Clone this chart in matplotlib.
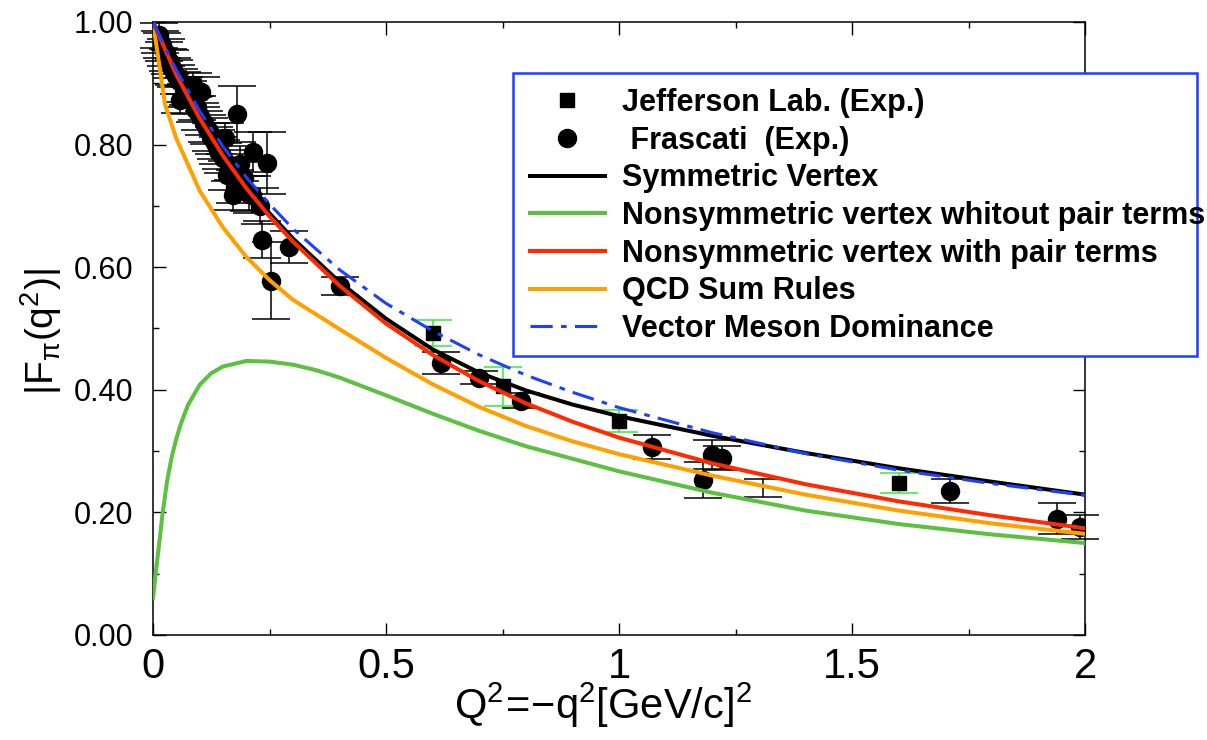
import matplotlib
matplotlib.use('Agg')
import matplotlib.pyplot as plt
from matplotlib.lines import Line2D
from matplotlib.patches import Rectangle
from matplotlib.legend_handler import HandlerLine2D
from matplotlib.ticker import MultipleLocator, FormatStrFormatter
from matplotlib.font_manager import FontProperties

plt.rcParams['font.family'] = ['Liberation Sans', 'DejaVu Sans']
plt.rcParams['mathtext.fontset'] = 'custom'
plt.rcParams['mathtext.rm'] = 'Liberation Sans'
plt.rcParams['mathtext.it'] = 'Liberation Sans:italic'
plt.rcParams['lines.scale_dashes'] = False

# ---------------- data ----------------
# Frascati, dense low-Q2 region
fr_lo_x = [0.012, 0.016, 0.020, 0.024, 0.028, 0.032, 0.036, 0.040, 0.045, 0.050,
           0.055, 0.058, 0.062, 0.066, 0.070, 0.075, 0.080, 0.086, 0.090, 0.095,
           0.100, 0.104, 0.110, 0.115, 0.120, 0.125, 0.130, 0.135, 0.140, 0.145,
           0.150, 0.155, 0.158, 0.165, 0.172, 0.176, 0.187, 0.195, 0.205, 0.212, 0.230]
fr_lo_y = [0.978, 0.968, 0.962, 0.952, 0.950, 0.938, 0.935, 0.925, 0.918, 0.912,
           0.903, 0.873, 0.900, 0.890, 0.880, 0.884, 0.872, 0.897, 0.858, 0.860,
           0.846, 0.886, 0.835, 0.826, 0.822, 0.812, 0.806, 0.800, 0.790, 0.784,
           0.778, 0.810, 0.750, 0.766, 0.718, 0.731, 0.769, 0.745, 0.720, 0.718, 0.700]
fr_lo_e = [0.020, 0.018, 0.020, 0.016, 0.022, 0.018, 0.020, 0.017, 0.020, 0.018,
           0.020, 0.022, 0.018, 0.020, 0.019, 0.020, 0.022, 0.020, 0.021, 0.020,
           0.022, 0.024, 0.020, 0.022, 0.021, 0.023, 0.022, 0.024, 0.022, 0.024,
           0.025, 0.026, 0.024, 0.026, 0.025, 0.027, 0.028, 0.026, 0.028, 0.030, 0.030]

# Frascati, remaining points
fr_hi_x = [0.180, 0.215, 0.245, 0.233, 0.292, 0.253, 0.401, 0.618, 0.700, 0.790,
           1.070, 1.180, 1.200, 1.220, 1.710, 1.940, 1.990]
fr_hi_y = [0.850, 0.788, 0.770, 0.645, 0.633, 0.578, 0.569, 0.444, 0.420, 0.382,
           0.307, 0.253, 0.294, 0.289, 0.235, 0.190, 0.176]
fr_hi_e = [0.045, 0.032, 0.050, 0.030, 0.026, 0.063, 0.015, 0.018, 0.010, 0.012,
           0.020, 0.030, 0.024, 0.020, 0.020, 0.026, 0.020]

# bar with no marker
nb_x = [1.309]
nb_y = [0.240]
nb_e = [0.015]

# Jefferson Lab
jl_x = [0.60, 0.75, 1.00, 1.60]
jl_y = [0.493, 0.406, 0.349, 0.248]
jl_e = [0.021, 0.032, 0.018, 0.016]

# model curves
sym_x = [0.0, 0.05, 0.10, 0.15, 0.20, 0.25, 0.30, 0.40, 0.50, 0.60, 0.70, 0.80,
         0.90, 1.00, 1.20, 1.40, 1.60, 1.80, 2.00]
sym_y = [1.000, 0.915, 0.845, 0.785, 0.733, 0.688, 0.647, 0.576, 0.516, 0.466, 0.428,
         0.399, 0.376, 0.357, 0.325, 0.297, 0.272, 0.250, 0.229]

nsp_x = [0.0, 0.05, 0.10, 0.15, 0.20, 0.25, 0.30, 0.40, 0.50, 0.60, 0.70, 0.80,
         0.90, 1.00, 1.20, 1.40, 1.60, 1.80, 2.00]
nsp_y = [1.000, 0.914, 0.843, 0.782, 0.729, 0.683, 0.642, 0.570, 0.508, 0.457, 0.414,
         0.378, 0.348, 0.322, 0.280, 0.246, 0.218, 0.195, 0.174]

nsn_x = [0.0, 0.0075, 0.015, 0.02, 0.03, 0.04, 0.05, 0.06, 0.075, 0.10, 0.125, 0.15,
         0.20, 0.25, 0.30, 0.35, 0.40, 0.50, 0.60, 0.70, 0.80, 1.00, 1.20, 1.40,
         1.60, 1.80, 2.00]
nsn_y = [0.060, 0.112, 0.160, 0.195, 0.250, 0.290, 0.320, 0.345, 0.375, 0.408, 0.427,
         0.438, 0.447, 0.446, 0.441, 0.432, 0.420, 0.391, 0.361, 0.333, 0.308, 0.267,
         0.232, 0.203, 0.181, 0.164, 0.150]

qcd_x = [0.0, 0.026, 0.05, 0.10, 0.15, 0.20, 0.25, 0.30, 0.40, 0.50, 0.60, 0.70,
         0.80, 0.90, 1.00, 1.20, 1.40, 1.60, 1.80, 2.00]
qcd_y = [1.000, 0.865, 0.810, 0.725, 0.665, 0.617, 0.579, 0.547, 0.499, 0.452, 0.409,
         0.372, 0.341, 0.316, 0.295, 0.260, 0.229, 0.203, 0.182, 0.165]

vmd_x = [0.0, 0.05, 0.10, 0.15, 0.20, 0.25, 0.30, 0.40, 0.50, 0.60, 0.70, 0.80,
         0.90, 1.00, 1.20, 1.40, 1.60, 1.80, 2.00]
vmd_y = [1.000, 0.922, 0.855, 0.797, 0.747, 0.703, 0.663, 0.596, 0.541, 0.496, 0.457,
         0.424, 0.396, 0.371, 0.330, 0.296, 0.269, 0.247, 0.228]

labels = ['Jefferson Lab. (Exp.)', ' Frascati  (Exp.)', 'Symmetric Vertex',
          'Nonsymmetric vertex whitout pair terms', 'Nonsymmetric vertex with pair terms',
          'QCD Sum Rules', 'Vector Meson Dominance']

C_GREEN = '#5cc040'
C_RED = '#ff2a00'
C_ORANGE = '#ffa000'
C_BLUE = '#1f3fff'
C_LIME = '#33ee33'

# ---------------- figure ----------------
W, H = 1207, 740
fig = plt.figure(figsize=(W / 100, H / 100), dpi=100)
ax = fig.add_axes([153 / W, 1 - 635 / H, 932 / W, 613 / H])


def unclip(cont):
    for grp in (cont.lines[1], cont.lines[2]):
        for a in grp:
            a.set_clip_on(False)


c1 = ax.errorbar(fr_lo_x, fr_lo_y, yerr=fr_lo_e, fmt='o', color='k', ms=13,
                 capsize=14, elinewidth=1.1, capthick=1.1, zorder=2)
unclip(c1)
c2 = ax.errorbar(fr_hi_x, fr_hi_y, yerr=fr_hi_e, fmt='o', color='k', ms=13,
                 capsize=14, elinewidth=1.1, capthick=1.1, zorder=2)
unclip(c2)
c3 = ax.errorbar(nb_x, nb_y, yerr=nb_e, fmt='none', ecolor='k',
                 capsize=14, elinewidth=1.1, capthick=1.1, zorder=2)
unclip(c3)
c4 = ax.errorbar(jl_x, jl_y, yerr=jl_e, fmt='s', color='k', ecolor=C_LIME, ms=10,
                 capsize=14, elinewidth=1.1, capthick=1.1, zorder=2)
unclip(c4)

ax.plot(nsn_x, nsn_y, color=C_GREEN, lw=2.9, zorder=3)
ax.plot(qcd_x, qcd_y, color=C_ORANGE, lw=2.9, zorder=3)
ax.plot(sym_x, sym_y, color='k', lw=2.9, zorder=4)
ax.plot(nsp_x, nsp_y, color=C_RED, lw=2.9, zorder=5)
lv, = ax.plot(vmd_x, vmd_y, color=C_BLUE, lw=2.2, zorder=6)
lv.set_dashes([16, 6, 4, 6])

ax.set_xlim(0, 2)
ax.set_ylim(0, 1)
ax.xaxis.set_major_locator(MultipleLocator(0.5))
ax.xaxis.set_minor_locator(MultipleLocator(0.25))
ax.yaxis.set_major_locator(MultipleLocator(0.2))
ax.yaxis.set_minor_locator(MultipleLocator(0.1))
ax.xaxis.set_major_formatter(FormatStrFormatter('%g'))
ax.yaxis.set_major_formatter(FormatStrFormatter('%.2f'))
ax.tick_params(which='both', direction='in', top=True, right=True, width=1.0)
ax.tick_params(which='major', length=9)
ax.tick_params(which='minor', length=4.5)
ax.tick_params(axis='x', labelsize=30, pad=9)
ax.tick_params(axis='y', labelsize=22, pad=14)
for s in ax.spines.values():
    s.set_linewidth(1.1)

fig.text(603 / W, 1 - 705 / H, r'$\mathrm{Q^{2}\!=\!{-}q^{2}[GeV/c]^{2}}$',
         fontsize=30, ha='center', va='center')
fig.text(41 / W, 1 - 332 / H, r'$\mathrm{|F_{\pi}(q^{2})|}$',
         fontsize=28, ha='center', va='center', rotation=90)


class RightMarker(HandlerLine2D):
    def get_xdata(self, legend, xdescent, ydescent, width, height, fontsize):
        xdata = [-xdescent, -xdescent + width]
        xm = [-xdescent + width * 0.97]
        return xdata, xm


# legend frame
fig.add_artist(Rectangle((513 / W, 1 - 356 / H), 684 / W, 283 / H,
                         transform=fig.transFigure, facecolor='white',
                         edgecolor=C_BLUE, linewidth=1.8, zorder=4))

handles = [
    Line2D([], [], ls='none', marker='s', color='k', ms=10),
    Line2D([], [], ls='none', marker='o', color='k', ms=13),
    Line2D([], [], color='k', lw=2.9),
    Line2D([], [], color=C_GREEN, lw=2.9),
    Line2D([], [], color=C_RED, lw=2.9),
    Line2D([], [], color=C_ORANGE, lw=2.9),
    Line2D([], [], color=C_BLUE, lw=2.2, dashes=[16, 6, 4, 6]),
]
prop = FontProperties(family=['Liberation Sans Narrow', 'Liberation Sans'],
                      weight='bold', size=22)
leg = fig.legend(handles, labels, loc='upper left',
                 bbox_to_anchor=(530 / W, 1 - 88 / H), prop=prop,
                 frameon=False, borderaxespad=0, borderpad=0,
                 handlelength=2.45, handletextpad=0.56, labelspacing=0.25,
                 numpoints=1,
                 handler_map={h: RightMarker() for h in handles[:2]})
leg.set_zorder(5)

fig.savefig('out.png', dpi=100)
